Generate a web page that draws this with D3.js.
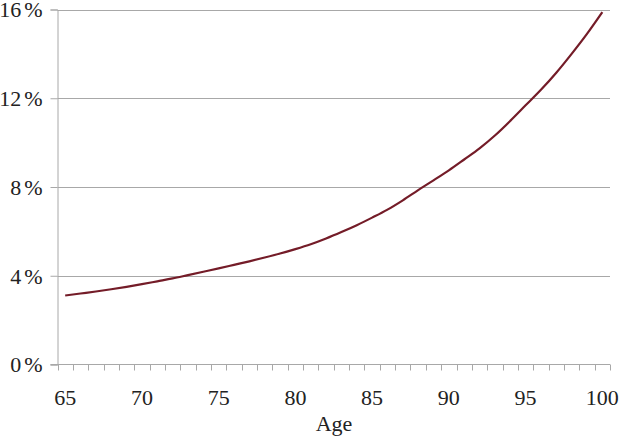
<!DOCTYPE html>
<html><head><meta charset="utf-8">
<script src="https://cdn.jsdelivr.net/npm/d3@7"></script>
<style>body{margin:0;background:#fff}svg{display:block}text{font-family:"Liberation Serif","Times New Roman",serif;fill:#222}</style>
</head><body><svg id="c" width="620" height="437"></svg>
<script>
const ages = d3.range(65, 101);
const values = [3.11,3.20,3.29,3.39,3.50,3.62,3.75,3.88,4.03,4.18,4.33,4.49,4.65,4.82,5.00,5.20,5.42,5.68,5.97,6.28,6.62,6.98,7.40,7.86,8.30,8.75,9.24,9.74,10.32,10.98,11.68,12.38,13.15,14.00,14.90,15.88];
const yTicks = [0,4,8,12,16];
const xLabelAges = [65,70,75,80,85,90,95,100];
const xTitle = "Age";

const svg = d3.select("#c");
const mLeft = 57.5, mRight = 610, mTop = 9.5, mBottom = 364.5;
const x = d3.scaleBand().domain(ages).range([mLeft, mRight]);
const y = d3.scaleLinear().domain([0,16]).range([mBottom, mTop]);
const grid = "#a8a8a8";

// gridlines
svg.append("g").selectAll("line").data(yTicks.filter(d=>d>0)).join("line")
  .attr("x1", mLeft).attr("x2", mRight)
  .attr("y1", d=>Math.round(y(d))+0.5).attr("y2", d=>Math.round(y(d))+0.5)
  .attr("stroke", grid).attr("stroke-width",1);

// y axis
const ya = svg.append("g").attr("transform",`translate(${mLeft},0)`)
  .call(d3.axisLeft(y).tickValues(yTicks).tickSize(7).tickPadding(8).tickFormat(""));
ya.select(".domain").attr("stroke", grid);
ya.selectAll(".tick line").attr("stroke", grid);
ya.selectAll(".tick text").each(function(d){
  const t = d3.select(this).attr("font-size", 22).attr("fill","#222")
    .attr("font-family","Liberation Serif").attr("dy","0.34em").text(null);
  t.append("tspan").text(d);
  t.append("tspan").attr("dx", 3).text("%");
});

// x axis
const xa = svg.append("g").attr("transform",`translate(0,${mBottom})`);
xa.append("line").attr("x1", mLeft-7).attr("x2", mRight).attr("y1",0).attr("y2",0).attr("stroke",grid);
const bounds = ages.map(a=>x(a)).concat([mRight]);
xa.selectAll("line.t").data(bounds).join("line").attr("class","t")
  .attr("x1", d=>Math.round(d)+0.5).attr("x2", d=>Math.round(d)+0.5)
  .attr("y1",0).attr("y2",6).attr("stroke",grid);
xa.selectAll("text").data(xLabelAges).join("text")
  .attr("x", d=>x(d)+x.bandwidth()/2).attr("y", 40)
  .attr("text-anchor","middle").attr("font-size",22).text(d=>d);

svg.append("text").attr("x", 334).attr("y", 431).attr("text-anchor","middle")
  .attr("font-size",22).text(xTitle);

// line
const line = d3.line().x((d,i)=>x(ages[i])+x.bandwidth()/2).y(d=>y(d)).curve(d3.curveMonotoneX);
svg.append("path").datum(values).attr("d", line).attr("fill","none")
  .attr("stroke","#741c28").attr("stroke-width",2.2);
</script></body></html>
